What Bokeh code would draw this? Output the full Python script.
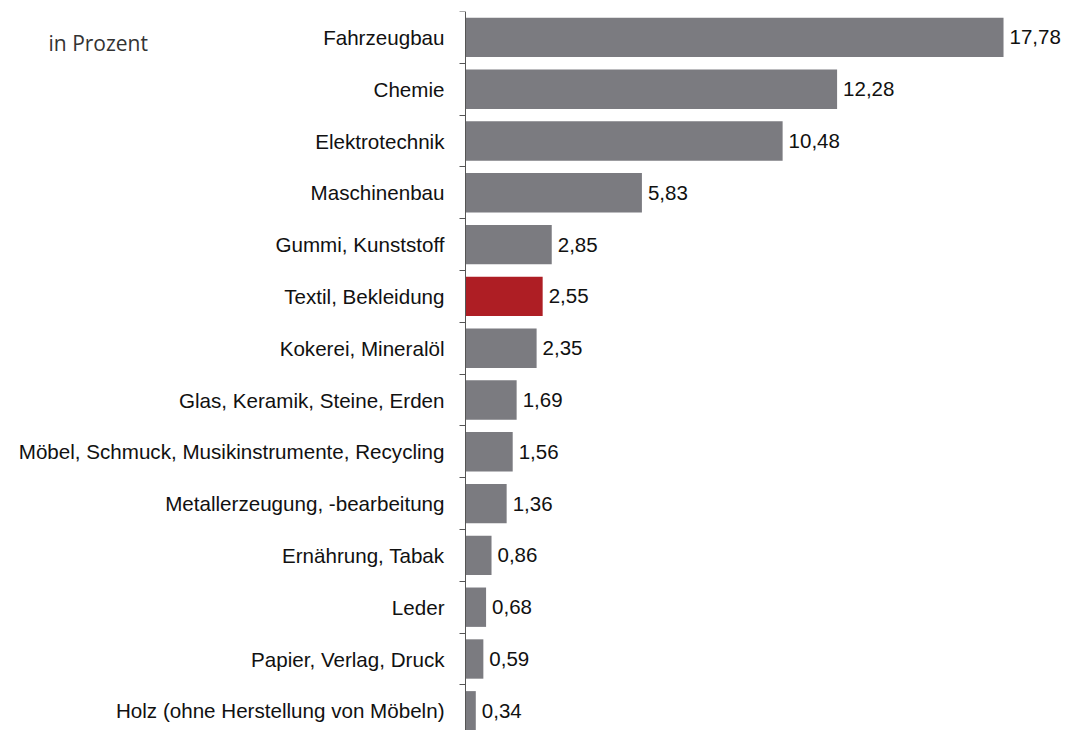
from bokeh.plotting import figure
from bokeh.models import Range1d, FixedTicker, ColumnDataSource
from bokeh.core.properties import value
from bokeh.embed import file_html
from bokeh.resources import INLINE

categories = [
    "Fahrzeugbau", "Chemie", "Elektrotechnik", "Maschinenbau",
    "Gummi, Kunststoff", "Textil, Bekleidung", "Kokerei, Mineralöl",
    "Glas, Keramik, Steine, Erden",
    "Möbel, Schmuck, Musikinstrumente, Recycling",
    "Metallerzeugung, -bearbeitung", "Ernährung, Tabak", "Leder",
    "Papier, Verlag, Druck", "Holz (ohne Herstellung von Möbeln)",
]
values = [17.78, 12.28, 10.48, 5.83, 2.85, 2.55, 2.35, 1.69, 1.56, 1.36,
          0.86, 0.68, 0.59, 0.34]
highlight = "Textil, Bekleidung"
unit_label = "in Prozent"

GRAY = "#7b7b80"
RED = "#ae1e24"

ypos = [-float(i) for i in range(len(categories))]
colors = [RED if c == highlight else GRAY for c in categories]
texts = [f"{v:.2f}".replace(".", ",") for v in values]

src = ColumnDataSource(dict(y=ypos, v=values, c=colors, t=texts))

W, H = 1066, 730
AXIS_X = 465          # screen x of the value axis (zero line)
TOP = 11
PX_PER_UNIT = 30.26
ROW = 51.8
x_start = -AXIS_X / PX_PER_UNIT
x_end = (W - AXIS_X) / PX_PER_UNIT
y_top = 0.5
y_bottom = y_top - (H - TOP) / ROW

p = figure(width=W, height=H, x_range=Range1d(x_start, x_end),
           y_range=Range1d(y_bottom, y_top),
           output_backend="svg", toolbar_location=None,
           x_axis_location=None,
           min_border_left=0, min_border_right=0,
           min_border_top=TOP, min_border_bottom=0)
p.outline_line_color = None
p.grid.visible = False
p.background_fill_color = "white"
p.border_fill_color = "white"

p.hbar(y="y", left=0, right="v", height=0.76, color="c", line_color=None,
       source=src)
p.text(x="v", y="y", text="t", x_offset=6, text_baseline="middle",
       text_align="left", text_font=value("Liberation Sans"),
       text_font_size="20.5px", text_color="#111111", source=src)

ax = p.yaxis[0]
ax.fixed_location = 0
boundaries = [0.5 - i for i in range(len(categories))]
ax.ticker = FixedTicker(ticks=ypos, minor_ticks=boundaries)
ax.major_label_overrides = {y: c for y, c in zip(ypos, categories)}
ax.major_tick_out = 0
ax.major_tick_in = 0
ax.minor_tick_out = 6
ax.minor_tick_in = 0
ax.minor_tick_line_color = "#555555"
ax.axis_line_color = "#555555"
ax.axis_line_width = 1
ax.major_label_standoff = 15
ax.major_label_text_font = "Liberation Sans"
ax.major_label_text_font_size = "20.6px"
ax.major_label_text_color = "#111111"

# unit note, placed in the empty area top-left
lx = (48 - AXIS_X) / PX_PER_UNIT
ly = y_top - (42 - TOP) / ROW
p.text(x=[lx], y=[ly], text=[unit_label], text_baseline="middle",
       text_align="left", text_font=value("Open Sans"),
       text_font_size="21px", text_color="#333333")

open("out.html", "w").write(file_html(p, INLINE))
